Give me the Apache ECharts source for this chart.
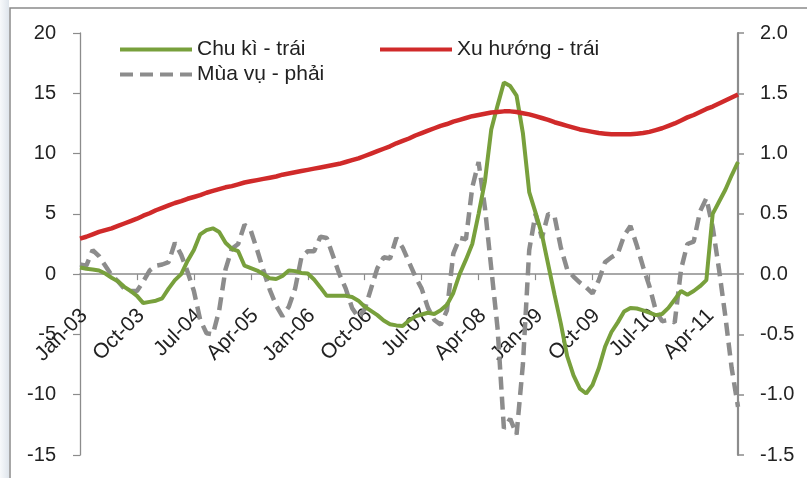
<!DOCTYPE html>
<html>
<head>
<meta charset="utf-8">
<script src="https://cdn.jsdelivr.net/npm/echarts@6/dist/echarts.min.js"></script>
<style>
  html, body { margin: 0; padding: 0; background: #fff; }
  #chart { width: 807px; height: 478px; }
</style>
</head>
<body>
<div id="chart"></div>
<script>
// Monthly categories, Jan-03 .. Sep-11
const monthNames = ['Jan', 'Feb', 'Mar', 'Apr', 'May', 'Jun', 'Jul', 'Aug', 'Sep', 'Oct', 'Nov', 'Dec'];
const firstYear = 2003;
const monthCount = 105;
const categories = [];
for (let i = 0; i < monthCount; i++) {
  const yy = String((firstYear + Math.floor(i / 12)) % 100).padStart(2, '0');
  categories.push(monthNames[i % 12] + '-' + yy);
}

// Series names (legend text)
const seriesNames = ['Chu kì - trái', 'Xu hướng - trái', 'Mùa vụ - phải'];

// Cyclical component (left axis)
const cycle = [
  0.55, 0.45, 0.38, 0.3, 0.05, -0.3, -0.6, -1.05, -1.4, -1.8,
  -2.4, -2.3, -2.2, -2.0, -1.2, -0.5, 0.0, 1.1, 2.0, 3.3,
  3.65, 3.8, 3.5, 2.6, 2.1, 1.9, 0.7, 0.5, 0.3, 0.0,
  -0.35, -0.4, -0.15, 0.3, 0.25, 0.1, 0.05, -0.45, -1.1, -1.8,
  -1.8, -1.8, -1.8, -1.9, -2.2, -2.7, -3.05, -3.4, -3.85, -4.15,
  -4.25, -4.3, -3.85, -3.5, -3.35, -3.2, -3.3, -3.0, -2.55, -1.56,
  0.0, 1.2, 2.5, 5.0, 7.7, 12.0, 14.0, 15.9, 15.6, 14.8,
  11.7, 6.8, 5.1, 3.3, 0.8, -1.7, -4.1, -6.8, -8.4, -9.5,
  -9.9, -9.2, -7.8, -6.0, -4.8, -4.0, -3.1, -2.8, -2.85, -3.0,
  -3.2, -3.4, -3.3, -2.8, -2.1, -1.4, -1.7, -1.4, -1.0, -0.5,
  5.0, 6.0, 7.0, 8.2, 9.3
];

// Trend component (left axis)
const trend = [
  2.95, 3.1, 3.3, 3.5, 3.65, 3.8, 4.0, 4.2, 4.4, 4.6,
  4.85, 5.05, 5.3, 5.5, 5.7, 5.9, 6.05, 6.25, 6.4, 6.55,
  6.75, 6.9, 7.05, 7.2, 7.3, 7.45, 7.6, 7.7, 7.8, 7.9,
  8.0, 8.1, 8.25, 8.35, 8.45, 8.55, 8.65, 8.75, 8.85, 8.95,
  9.05, 9.15, 9.3, 9.45, 9.6, 9.8, 10.0, 10.2, 10.4, 10.6,
  10.85, 11.05, 11.25, 11.5, 11.7, 11.9, 12.1, 12.3, 12.45, 12.65,
  12.8, 12.95, 13.1, 13.2, 13.3, 13.4, 13.45, 13.5, 13.5, 13.45,
  13.35, 13.25, 13.1, 12.95, 12.8, 12.6, 12.45, 12.3, 12.15, 12.0,
  11.9, 11.8, 11.7, 11.65, 11.6, 11.6, 11.6, 11.6, 11.65, 11.7,
  11.8, 11.95, 12.1, 12.3, 12.5, 12.75, 13.0, 13.2, 13.45, 13.7,
  13.9, 14.15, 14.4, 14.65, 14.9
];

// Seasonal component (right axis)
const seasonal = [
  0.08, 0.07, 0.2, 0.15, 0.07, -0.01, -0.06, -0.12, -0.14, -0.14,
  -0.06, 0.03, 0.07, 0.08, 0.1, 0.26, 0.16, 0.02, -0.14, -0.38,
  -0.49, -0.5, -0.3, 0.04, 0.21, 0.25, 0.41, 0.36, 0.2, 0.03,
  -0.13, -0.26, -0.35, -0.27, -0.12, 0.14, 0.19, 0.19, 0.31, 0.3,
  0.15, 0.0, -0.12, -0.28, -0.36, -0.29, -0.12, 0.05, 0.14, 0.13,
  0.3, 0.22, 0.1, -0.02, -0.12, -0.28, -0.38, -0.42, -0.3, 0.17,
  0.3, 0.29, 0.72, 0.93, 0.55, 0.05, -0.45, -1.28, -1.2, -1.33,
  -0.75, 0.2, 0.5, 0.3, 0.5, 0.48, 0.22, 0.04, -0.02, -0.07,
  -0.11, -0.16, -0.05, 0.1, 0.14, 0.17, 0.32, 0.4, 0.24, 0.06,
  -0.1, -0.3, -0.39, -0.38, -0.4, 0.04, 0.25, 0.27, 0.52, 0.63,
  0.39, 0.04, -0.35, -0.78, -1.1
];

// Axis ranges
const leftAxis = { min: -15, max: 20, step: 5 };
const rightAxis = { min: -1.5, max: 2.0, step: 0.5 };

const FONT = '"Liberation Sans", Arial, sans-serif';
const TEXT = '#222';
const AXIS = '#8c8c8c';
const GREEN = '#78a03c';
const RED = '#d02a2a';
const GREY = '#8c8c8c';

// Legend keys: solid bar for the two solid lines, four dashes for the dashed one
const SOLID_KEY = 'path://M0,0H72V4H0Z';
const DASH_KEY = 'path://M0,0H13V4H0Z M20,0H33V4H20Z M40,0H53V4H40Z M60,0H72V4H60Z';

// Plot box
const GRID = { left: 80, right: 69, top: 33, bottom: 23 };
const PLOT_H = 478 - GRID.top - GRID.bottom;
// Raise the category axis from the bottom edge to the zero line of the left scale
const zeroFromBottom = PLOT_H * (0 - leftAxis.min) / (leftAxis.max - leftAxis.min);

const chart = echarts.init(document.getElementById('chart'), null, { renderer: 'canvas' });

function legendAt(name, icon, color, left, top) {
  return {
    data: [{ name: name, icon: icon, itemStyle: { color: color } }],
    left: left,
    top: top,
    padding: 0,
    itemWidth: 72,
    itemHeight: 4,
    selectedMode: false,
    textStyle: { fontFamily: FONT, fontSize: 21, color: TEXT }
  };
}

chart.setOption({
  animation: false,
  backgroundColor: '#fff',
  textStyle: { fontFamily: FONT },
  graphic: [
    {
      type: 'rect',
      shape: { x: 0, y: 0, width: 9, height: 478 },
      style: {
        fill: new echarts.graphic.LinearGradient(0, 0, 1, 0, [
          { offset: 0, color: '#f7f9fb' },
          { offset: 1, color: '#dfe5ec' }
        ])
      },
      silent: true
    },
    {
      type: 'polyline',
      shape: { points: [[10, 478], [10, 8], [807, 8]] },
      style: { stroke: '#8a8a8a', lineWidth: 1.5, fill: null },
      silent: true
    }
  ],
  legend: [
    legendAt(seriesNames[0], SOLID_KEY, GREEN, 120, 39),
    legendAt(seriesNames[1], SOLID_KEY, RED, 380, 39),
    legendAt(seriesNames[2], DASH_KEY, GREY, 120, 64)
  ],
  grid: Object.assign({ containLabel: false, outerBoundsMode: 'none' }, GRID),
  xAxis: {
    type: 'category',
    data: categories,
    boundaryGap: false,
    position: 'bottom',
    offset: -zeroFromBottom,
    axisLine: { onZero: false, lineStyle: { color: AXIS, width: 1.5 } },
    axisTick: { show: true, interval: 8, length: 6, lineStyle: { color: AXIS, width: 1.2 } },
    axisLabel: {
      interval: 8, rotate: 45, margin: 34, fontSize: 21, color: TEXT, fontFamily: FONT,
      verticalAlign: 'top', lineHeight: 12
    },
    splitLine: { show: false }
  },
  yAxis: [
    {
      type: 'value',
      position: 'left',
      min: leftAxis.min,
      max: leftAxis.max,
      interval: leftAxis.step,
      axisLine: { show: true, onZero: false, lineStyle: { color: AXIS, width: 1.3 } },
      axisTick: { show: true, length: 7, lineStyle: { color: AXIS, width: 1.2 } },
      axisLabel: { margin: 24, fontSize: 20, color: TEXT, fontFamily: FONT },
      splitLine: { show: false }
    },
    {
      type: 'value',
      position: 'right',
      min: rightAxis.min,
      max: rightAxis.max,
      interval: rightAxis.step,
      axisLine: { show: true, onZero: false, lineStyle: { color: AXIS, width: 2.2 } },
      axisTick: { show: true, length: 6, lineStyle: { color: AXIS, width: 1.5 } },
      axisLabel: {
        margin: 22, fontSize: 20, color: TEXT, fontFamily: FONT,
        formatter: v => v.toFixed(1)
      },
      splitLine: { show: false }
    }
  ],
  series: [
    {
      name: seriesNames[2],
      type: 'line',
      yAxisIndex: 1,
      data: seasonal,
      symbol: 'none',
      z: 2,
      lineStyle: { color: GREY, width: 4.5, type: [13, 7], cap: 'butt' },
      itemStyle: { color: GREY }
    },
    {
      name: seriesNames[0],
      type: 'line',
      yAxisIndex: 0,
      data: cycle,
      symbol: 'none',
      z: 3,
      lineStyle: { color: GREEN, width: 4 },
      itemStyle: { color: GREEN }
    },
    {
      name: seriesNames[1],
      type: 'line',
      yAxisIndex: 0,
      data: trend,
      symbol: 'none',
      z: 4,
      lineStyle: { color: RED, width: 4.5 },
      itemStyle: { color: RED }
    }
  ]
});
</script>
</body>
</html>
